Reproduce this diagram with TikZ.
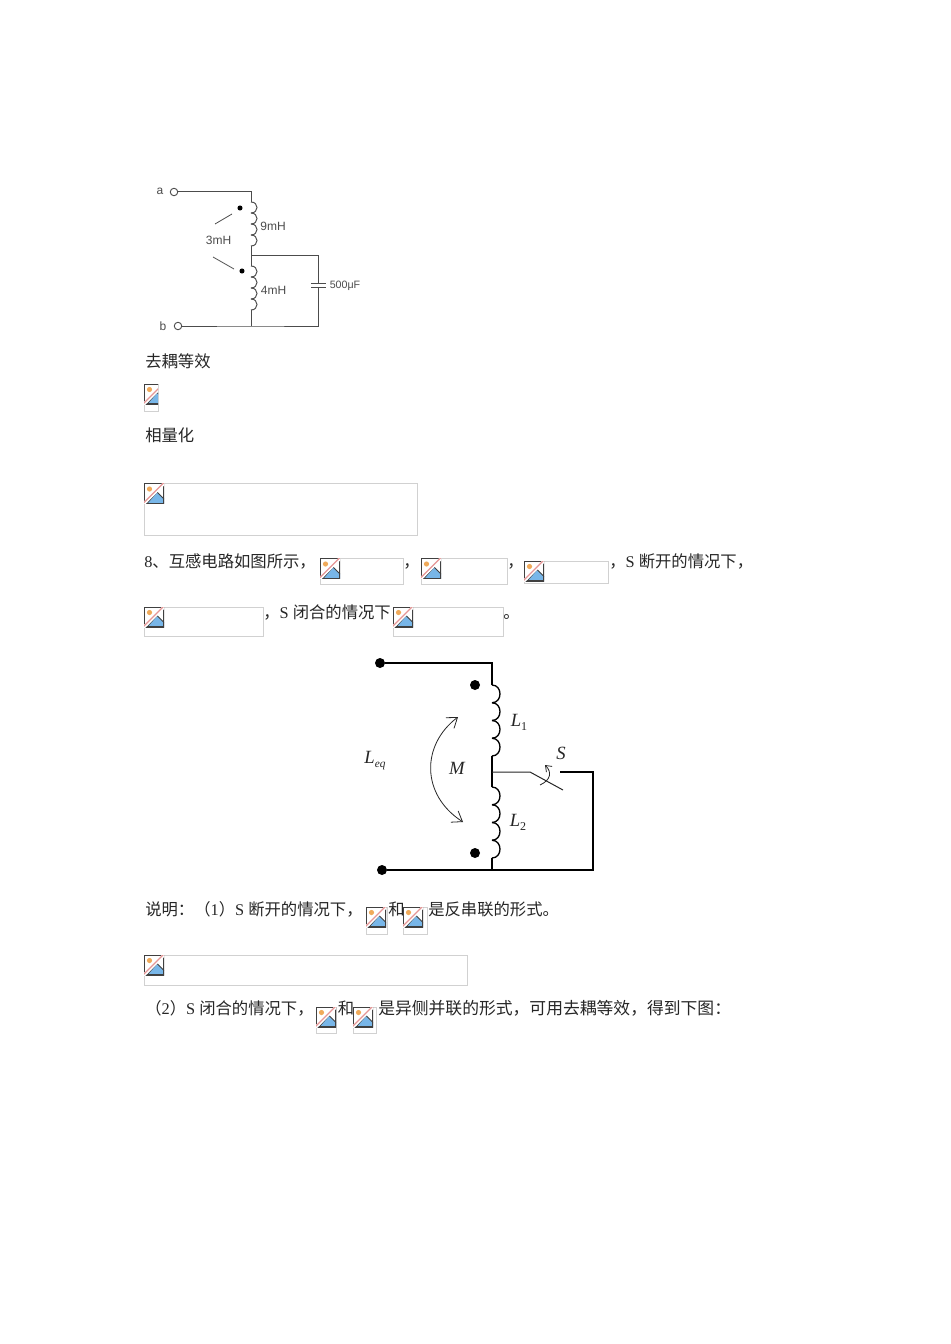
\documentclass[tikz,border=0pt]{standalone}
\usepackage{fontspec}
\setmainfont{Noto Sans CJK SC}
\newfontfamily\latinf{Liberation Serif}
\newfontfamily\schemf{Liberation Sans}
\usetikzlibrary{arrows.meta}
% hump coil, drawn downwards: (x, y)(hump height:bulge:count)
\def\humps[#1](#2,#3)(#4:#5:#6){\foreach \k in {1,...,#6}{\draw[#1] ({#2},{#3+(\k-1)*#4}) .. controls ({#2+1.33*#5},{#3+(\k-1)*#4}) and ({#2+1.33*#5},{#3+\k*#4}) .. ({#2},{#3+\k*#4});}}
% missing-picture icon in a grey frame: (x, y)(frame width:frame height)
\def\noimage(#1,#2)(#3:#4){
	\draw[imgframe] (#1, #2) rectangle ({#1+#3}, {#2+#4});
	\begin{scope}[shift={(#1, #2)}]
		\clip (0, 0) rectangle ({min(#3,20)}, 20);
		\fill[white] (0, 0) rectangle (20, 20);
		\fill[color={rgb,255:red,120;green,182;blue,232}] (3, 20) -- (13, 8.5) -- (20, 15.5) -- (20, 20) -- cycle;
		\draw[line width=0.6pt, color=black!75] (3, 20) -- (13, 8.5) -- (20, 15.5);
		\fill[color={rgb,255:red,240;green,170;blue,90}] (5.5, 5.5) circle (2.6);
		\draw[line width=1.1pt, color=black!75] (20, 0) -- (0, 0) -- (0, 20) -- (20, 20) -- (20, 0);
		\draw[line width=2.2pt, white] (-1, 21) -- (21, -1);
		\draw[line width=1pt, color={rgb,255:red,230;green,150;blue,150}] (-1, 20) -- (20, -1);
	\end{scope}
}
\tikzset{
	imgframe/.style={line width=0.7pt, color=black!18},
	txt/.style={anchor=base west, inner sep=0pt, font=\fontsize{12.25}{14}\selectfont, color=black!85},
	wireA/.style={line width=0.75pt, color=black!70},
	wireB/.style={line width=1pt, color=black},
	termA/.style={circle, draw=black!70, line width=0.7pt, fill=white, minimum size=5.6pt, inner sep=0pt},
	dotA/.style={circle, fill=black, minimum size=3.8pt, inner sep=0pt},
	dotB/.style={circle, fill=black, minimum size=7.5pt, inner sep=0pt},
	labA/.style={inner sep=0pt, font=\schemf\fontsize{9}{10}\selectfont, color=black!70},
	labB/.style={inner sep=0pt, font=\latinf\itshape\fontsize{14}{16}\selectfont, color=black!85}
}
\begin{document}
\begin{tikzpicture}[x=0.75pt, y=-0.75pt]
	%%%%% START %%%%%
	\useasboundingbox (0, 0) rectangle (950, 1344);
	\fill[white] (0, 0) rectangle (950, 1344);

	% first circuit
	\node[termA] (a) at (174, 192) {};
	\node[termA] (b) at (178, 326) {};
	\coordinate (topA) at (251, 192);
	\coordinate (coilA) at (251, 202);
	\coordinate (coilAend) at (251, 246);
	\coordinate (midA) at (251, 256);
	\coordinate (coilB) at (251, 266);
	\coordinate (coilBend) at (251, 310);
	\coordinate (botA) at (251, 326);
	\coordinate (capTop) at (318, 283.5);
	\coordinate (capBot) at (318, 287.5);
	\coordinate (cornerT) at (318, 256);
	\coordinate (cornerB) at (318, 326);
	\draw[wireA] (a) -- (topA) -- (coilA);
	\humps[wireA](251,202)(11:6:4)
	\draw[wireA] (coilAend) -- (coilB);
	\humps[wireA](251,266)(11:6:4)
	\draw[wireA] (coilBend) -- (botA);
	\draw[wireA] (b) -- (botA) -- (cornerB) -- (capBot);
	\draw[wireA] (midA) -- (cornerT) -- (capTop);
	\draw[wireA] (311, 283.5) -- (326, 283.5);
	\draw[wireA] (311, 287.5) -- (326, 287.5);
	\node[dotA] (dotOne) at (240, 208) {};
	\node[dotA] (dotTwo) at (242, 271) {};
	\draw[wireA, line width=0.6pt] (215, 224) -- (232, 214);
	\draw[wireA, line width=0.6pt] (213, 257) -- (234, 269);
	\node[labA] (la) at (160, 191) {a};
	\node[labA] (lb) at (163, 326) {b};
	\node[labA] (lmut) at (218.5, 240) {3mH};
	\node[labA] (lnine) at (273, 226.5) {9mH};
	\node[labA] (lfour) at (273.5, 290) {4mH};
	\node[labA, font=\schemf\fontsize{8}{9}\selectfont] (lcap) at (345, 286) {500μF};

	% text and missing pictures
	\node[txt] (t1) at (145, 367) {去耦等效};
	\noimage(144,384)(14:27)
	\node[txt] (t2) at (145, 441) {相量化};
	\noimage(144,483.5)(273:51.5)
	\node[txt] (t3) at (144, 567) {{\latinf 8}、互感电路如图所示，};
	\noimage(320,558.5)(83:26)
	\node[txt] (t4) at (403, 567) {，};
	\noimage(421,558.5)(86:26)
	\node[txt] (t5) at (507, 567) {，};
	\noimage(524,561)(84:22)
	\node[txt] (t6) at (609, 567) {，{\latinf S }断开的情况下，};
	\noimage(144,607)(119:29)
	\node[txt] (t7) at (263, 618) {，{\latinf S }闭合的情况下};
	\noimage(393,607)(110:29)
	\node[txt] (t8) at (503, 618) {。};

	% second circuit
	\node[dotB] (p) at (380, 663) {};
	\node[dotB] (q) at (382, 870) {};
	\coordinate (topB) at (492, 663);
	\coordinate (coilC) at (492, 685);
	\coordinate (coilCend) at (492, 756);
	\coordinate (midB) at (492, 772);
	\coordinate (coilD) at (492, 787);
	\coordinate (coilDend) at (492, 858);
	\coordinate (botB) at (492, 870);
	\coordinate (corner1) at (593, 870);
	\coordinate (corner2) at (593, 772);
	\coordinate (swR) at (560, 772);
	\coordinate (swL) at (530, 772);
	\coordinate (swEnd) at (563, 790);
	\draw[wireB] (p) -- (topB) -- (coilC);
	\humps[wireB](492,685)(17.75:8:4)
	\draw[wireB] (coilCend) -- (coilD);
	\humps[wireB](492,787)(17.75:8:4)
	\draw[wireB] (coilDend) -- (botB);
	\draw[wireB] (q) -- (corner1) -- (corner2) -- (swR);
	\draw[wireA, color=black!85] (midB) -- (swL) -- (swEnd);
	\draw[line width=0.6pt, color=black!85, -{Straight Barb[length=4pt, width=6pt]}] (540, 785) .. controls (551, 780) and (552, 772) .. (545, 765);
	\draw[line width=0.6pt, color=black!85, {Straight Barb[length=7pt, width=10pt]}-{Straight Barb[length=7pt, width=10pt]}] (458, 717) .. controls (421, 745) and (421, 795) .. (463, 822);
	\node[dotB] (dotThree) at (475, 685) {};
	\node[dotB] (dotFour) at (475, 853) {};
	\node[labB] (lS) at (561, 753) {S};
	\node[labB] (lL1) at (519, 722) {L\raisebox{-3pt}{\upshape\fontsize{9}{10}\selectfont 1}};
	\node[labB] (lL2) at (518, 822) {L\raisebox{-3pt}{\upshape\fontsize{9}{10}\selectfont 2}};
	\node[labB] (lLeq) at (375, 761) {L\raisebox{-3pt}{\fontsize{8.5}{10}\selectfont eq}};
	\node[labB] (lM) at (457, 768) {M};

	% closing text
	\node[txt] (t9) at (145, 915) {说明：（{\latinf 1}）{\latinf S }断开的情况下，};
	\noimage(366,907)(21:27)
	\noimage(403,907)(24:27)
	\node[txt] (t10) at (388, 915) {和};
	\node[txt] (t11) at (428, 915) {是反串联的形式。};
	\noimage(144,955)(323:30)
	\node[txt] (t12) at (145, 1014) {（{\latinf 2}）{\latinf S }闭合的情况下，};
	\noimage(316,1007)(20:26)
	\noimage(353,1007)(23:26)
	\node[txt] (t13) at (337.5, 1014) {和};
	\node[txt, font=\fontsize{12.6}{14}\selectfont] (t14) at (378, 1014) {是异侧并联的形式，可用去耦等效，得到下图：};
	%%%%% END %%%%%
\end{tikzpicture}
\end{document}
